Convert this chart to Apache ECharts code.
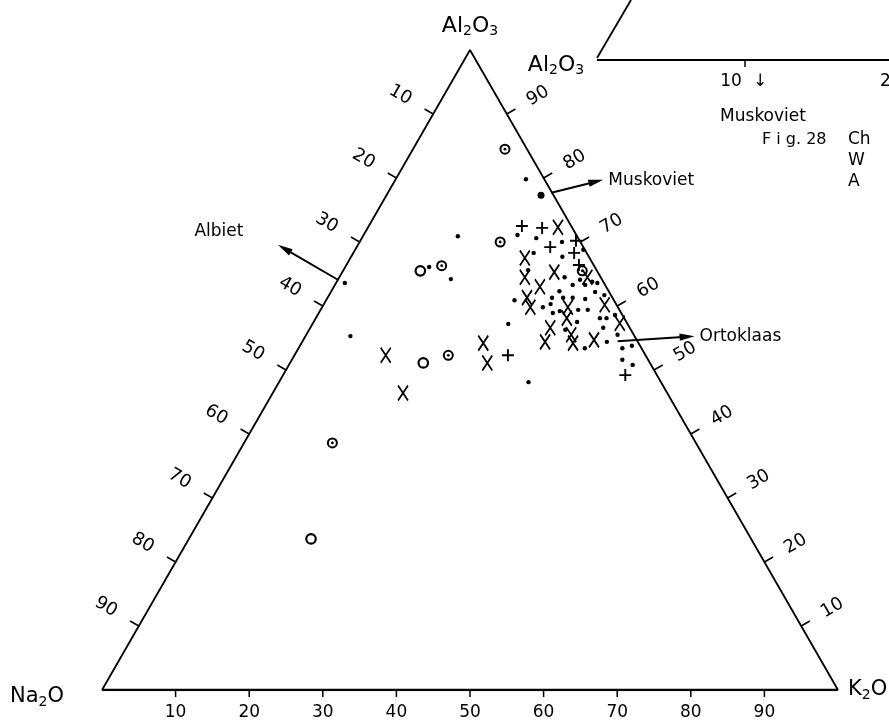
<!DOCTYPE html>
<html><head><meta charset="utf-8">
<script src="https://cdn.jsdelivr.net/npm/echarts@6/dist/echarts.min.js"></script>
<style>html,body{margin:0;padding:0;background:#fff}#c{width:889px;height:726px}</style>
</head><body><div id="c"></div>
<script>
// Ternary diagram Na2O - K2O - Al2O3 (wt%); each point stored as K2O and Al2O3 (Na2O = 100 - K2O - Al2O3)
const tickValues = [10, 20, 30, 40, 50, 60, 70, 80, 90];
const vertexNames = ['Na2O', 'K2O', 'Al2O3'];
const vertexK = [0, 100, 0];
const vertexAl = [0, 0, 100];

const dotK = [1.2,12.9,11.4,15.3,6.1,26.6,33.9,17.7,20.9,23.7,24.5,27.5,28.7,25.1,30.6,32.9,35.5,32.3,31.0,32.0,35.1,35.9,25.6,30.0,30.8,31.8,32.6,36.3,35.8,38.6,39.5,39.8,40.4,34.8,38.9,41.4,42.3,44.0,45.1,44.9,46.7,37.4,34.7,31.0,30.5,34.0,33.3,35.0];
const dotAl = [63.6,70.9,66.1,64.2,55.3,57.2,48.1,79.8,71.1,70.6,68.3,70.0,67.7,65.6,64.5,64.1,63.6,63.3,62.3,61.3,61.1,62.2,60.9,59.8,60.3,58.9,59.2,59.4,57.5,58.1,58.1,56.6,58.6,56.3,53.4,54.4,55.5,53.4,53.8,51.6,50.8,61.7,63.8,68.8,61.3,63.3,61.3,59.4];

const bullK = [12.5,19.1,13.0,20.9,12.0,32.5];
const bullAl = [84.5,70.0,66.3,52.3,38.6,65.5];

const ringK = [10.5,18.1,16.6];
const ringAl = [65.5,51.1,23.6];

const plusK = [20.8,23.7,26.3,29.3,30.0,31.6,29.0,46.5];
const plusAl = [72.5,72.2,69.2,70.2,68.3,66.4,52.3,49.2];

const crossK = [25.8,23.7,28.8,25.2,28.0,27.1,28.3,33.4,34.1,38.2,41.7,32.6,33.0,36.0,36.9,39.5,33.7,24.7,26.8,12.4,17.7];
const crossAl = [72.3,67.5,65.3,64.5,63.0,61.3,59.8,59.8,58.1,60.2,57.3,56.6,54.4,55.5,54.2,54.7,64.5,54.2,51.1,52.3,46.4];

const muscK = [21.0];
const muscAl = [77.3];

// mineral reference arrows (anchor compositions)
const mineralNames = ['Albiet', 'Muskoviet', 'Ortoklaas'];
const mineralK = [0, 22.2, 42.8];
const mineralAl = [64.1, 77.7, 54.5];

// ---------- layout / style (not data) ----------
const FONT = "'DejaVu Sans', sans-serif";
const SQ = Math.sqrt(3) / 2;
function tern(k, al) { return [k + al / 2, al * SQ]; }
function pts(K, A) { return K.map((k, i) => tern(k, A[i])); }

const chart = echarts.init(document.getElementById('c'), null, { renderer: 'canvas' });
const black = '#000';
const option = {
  animation: false,
  backgroundColor: '#fff',
  grid: { left: 102, top: 50, width: 736, height: 640 },
  xAxis: { type: 'value', min: 0, max: 100, show: false },
  yAxis: { type: 'value', min: 0, max: 100 * SQ, show: false },
  series: [
    { type: 'line', silent: true, symbol: 'none',
      data: [tern(vertexK[0], vertexAl[0]), tern(vertexK[2], vertexAl[2]), tern(vertexK[1], vertexAl[1])],
      lineStyle: { color: black, width: 1.8 } },
    { type: 'line', silent: true, symbol: 'none',
      data: [tern(vertexK[0], vertexAl[0]), tern(vertexK[1], vertexAl[1])],
      lineStyle: { color: black, width: 2.5 } },
    { type: 'scatter', data: pts(dotK, dotAl), symbol: 'circle', symbolSize: 4.4,
      itemStyle: { color: black, opacity: 1 } },
    { type: 'scatter', data: pts(bullK, bullAl), symbol: 'circle', symbolSize: 9,
      itemStyle: { color: '#fff', borderColor: black, borderWidth: 2, opacity: 1 } },
    { type: 'scatter', data: pts(bullK, bullAl), symbol: 'circle', symbolSize: 2.8,
      itemStyle: { color: black, opacity: 1 } },
    { type: 'scatter', data: pts(ringK, ringAl), symbol: 'circle', symbolSize: 9.5,
      itemStyle: { color: '#fff', borderColor: black, borderWidth: 2.2, opacity: 1 } },
    { type: 'scatter', data: pts(crossK, crossAl), symbol: 'path://M0,0L10,14M10,0L0,14',
      symbolSize: [10, 15], itemStyle: { color: 'none', borderColor: black, borderWidth: 1.9, opacity: 1 } },
    { type: 'scatter', data: pts(plusK, plusAl), symbol: 'path://M5,0L5,10M0,5L10,5',
      symbolSize: [12, 12], itemStyle: { color: 'none', borderColor: black, borderWidth: 1.9, opacity: 1 } },
    { type: 'scatter', data: pts(muscK, muscAl), symbol: 'circle', symbolSize: 7,
      itemStyle: { color: black, opacity: 1 } }
  ]
};
chart.setOption(option);

function px(k, al) { return chart.convertToPixel({ gridIndex: 0 }, tern(k, al)); }
const g = [];
function line(x1, y1, x2, y2, w) {
  g.push({ type: 'line', silent: true, shape: { x1, y1, x2, y2 }, style: { stroke: black, lineWidth: w || 1.5 } });
}
function text(t, x, y, size, opts) {
  opts = opts || {};
  const w = opts.weight || 'normal';
  g.push({ type: 'text', silent: true, x, y, rotation: opts.rot || 0,
    style: { text: t, fill: black,
      font: w + ' ' + size + 'px ' + FONT, fontSize: size, fontFamily: FONT, fontWeight: w,
      align: opts.align || 'center', verticalAlign: 'middle',
      textAlign: opts.align || 'center', textVerticalAlign: 'middle',
      rich: opts.rich } });
}
function arrow(x1, y1, x2, y2) {
  const dx = x2 - x1, dy = y2 - y1, L = Math.hypot(dx, dy), ux = dx / L, uy = dy / L;
  const hl = 15, hw = 3.6;
  line(x1, y1, x2 - ux * 8, y2 - uy * 8, 2);
  g.push({ type: 'polygon', silent: true, shape: { points: [
    [x2, y2], [x2 - ux * hl - uy * hw, y2 - uy * hl + ux * hw], [x2 - ux * hl + uy * hw, y2 - uy * hl - ux * hw]] },
    style: { fill: black } });
}

const nL = [-SQ, -0.5], nR = [SQ, -0.5];
tickValues.forEach(v => {
  // bottom: K2O %
  let p = px(v, 0);
  line(p[0], p[1], p[0], p[1] + 7, 1.5);
  text(String(v), p[0], p[1] + 23, 17);
  // left: Na2O %
  p = px(0, 100 - v);
  line(p[0], p[1], p[0] + nL[0] * 10, p[1] + nL[1] * 10, 1.5);
  text(String(v), p[0] + nL[0] * 38, p[1] + nL[1] * 38, 18, { rot: -Math.PI / 6 });
  // right: Al2O3 %
  p = px(100 - v, v);
  line(p[0], p[1], p[0] + nR[0] * 10, p[1] + nR[1] * 10, 1.5);
  text(String(v), p[0] + nR[0] * 36, p[1] + nR[1] * 36, 18, { rot: Math.PI / 6 });
});

const subRich = { s: { fontSize: 14, fontFamily: FONT, fill: black, padding: [10, 0, 0, 0] } };
// vertex labels
let pv = px(vertexK[2], vertexAl[2]);
text('Al{s|2}O{s|3}', pv[0], pv[1] - 24, 22, { rich: subRich });
pv = px(vertexK[0], vertexAl[0]);
text('Na{s|2}O', pv[0] - 65, pv[1] + 7, 21, { rich: subRich });
pv = px(vertexK[1], vertexAl[1]);
text('K{s|2}O', pv[0] + 10, pv[1], 21, { rich: subRich, align: 'left' });

// mineral arrows
const arrowHead = [[-60, -35], [52, -13], [77, -5]];
const labelPos = [[-119, -48, 'center'], [57, -12, 'left'], [82, -5, 'left']];
mineralNames.forEach((nm, i) => {
  const p = px(mineralK[i], mineralAl[i]);
  arrow(p[0], p[1], p[0] + arrowHead[i][0], p[1] + arrowHead[i][1]);
  text(nm, p[0] + labelPos[i][0], p[1] + labelPos[i][1], 17, { align: labelPos[i][2] });
});

// fragment of the neighbouring figure (top right, cropped in the source)
line(597, 60, 889, 60, 2.2);
line(597, 58, 631, 0, 1.8);
line(745, 60, 745, 67, 1.5);
text('Al{s|2}O{s|3}', 556, 65, 22, { rich: subRich });
text('10', 731, 82, 17);
text('↓', 760, 82, 17);
text('20', 880, 82, 17, { align: 'left' });
text('Muskoviet', 763, 117, 17);
text('F i g. 28', 762, 140, 16, { align: 'left' });
text('Ch', 848, 140, 17, { align: 'left' });
text('W', 848, 161, 17, { align: 'left' });
text('A', 848, 182, 17, { align: 'left' });

chart.setOption({ graphic: g });
</script></body></html>
